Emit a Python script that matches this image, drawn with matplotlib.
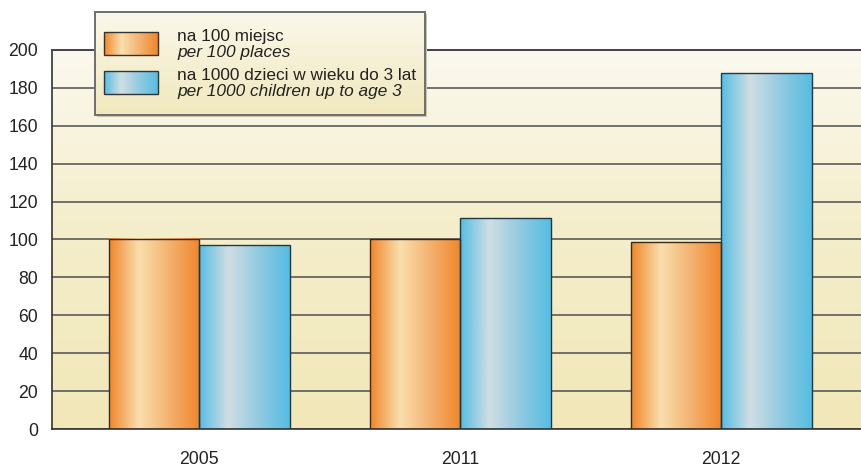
import numpy as np
import matplotlib
matplotlib.use("Agg")
import matplotlib.pyplot as plt
from matplotlib.colors import to_rgb
from matplotlib.patches import Rectangle

plt.rcParams['font.family'] = ['Liberation Sans', 'DejaVu Sans']

# Data
years = ["2005", "2011", "2012"]
per_100_places = [100.4, 100.2, 98.6]
per_1000_children = [97.0, 111.2, 187.6]
series_labels = [("na 100 miejsc", "per 100 places"),
                 ("na 1000 dzieci w wieku do 3 lat", "per 1000 children up to age 3")]
y_ticks = [0, 20, 40, 60, 80, 100, 120, 140, 160, 180, 200]

ORANGE_STOPS = [(0.0, '#f0862a'), (0.33, '#f9dfae'), (0.62, '#f4b878'), (1.0, '#f0862a')]
BLUE_STOPS = [(0.0, '#55bde3'), (0.32, '#d1dee3'), (0.65, '#93cbe0'), (1.0, '#55bde3')]


def gradient(stops, n=256):
    pos = np.array([s[0] for s in stops])
    cols = np.array([to_rgb(s[1]) for s in stops])
    t = np.linspace(0, 1, n)
    return np.stack([np.interp(t, pos, cols[:, k]) for k in range(3)], axis=-1)


W, H, DPI = 862, 469, 100
fig = plt.figure(figsize=(W / DPI, H / DPI), dpi=DPI)
fig.patch.set_facecolor('white')

ax = fig.add_axes([52 / W, 40 / H, (W - 52) / W, 379 / H])

# vertical background gradient of the plot area
bg = gradient([(0.0, '#f1e7b8'), (0.55, '#f5eecc'), (1.0, '#fbf9ef')])[:, None, :]
ax.imshow(bg, extent=[0, 1, 0, 1], transform=ax.transAxes, origin='lower',
          aspect='auto', zorder=0, interpolation='bilinear')

x = np.arange(len(years))
bw = 0.347
og = gradient(ORANGE_STOPS)[None, :, :]
bl = gradient(BLUE_STOPS)[None, :, :]
for xi, v1, v2 in zip(x, per_100_places, per_1000_children):
    ax.imshow(og, extent=[xi - bw, xi, 0, v1], aspect='auto', zorder=2,
              interpolation='bilinear')
    ax.imshow(bl, extent=[xi, xi + bw, 0, v2], aspect='auto', zorder=2,
              interpolation='bilinear')
ax.bar(x - bw / 2, per_100_places, width=bw, facecolor='none',
       edgecolor='#3a2a1a', linewidth=1.0, zorder=3)
ax.bar(x + bw / 2, per_1000_children, width=bw, facecolor='none',
       edgecolor='#1f3a45', linewidth=1.0, zorder=3)

ax.set_xlim(-0.565, 2.54)
ax.set_ylim(0, 200)
ax.set_yticks(y_ticks)
ax.set_xticks(x)
ax.set_xticklabels(years)
ax.yaxis.grid(True, color='#5a5a5a', linewidth=1.2)
ax.set_axisbelow(True)
ax.spines['right'].set_visible(False)
ax.spines['top'].set_color('#444444')
ax.spines['top'].set_linewidth(1.4)
for s in ['left', 'bottom']:
    ax.spines[s].set_color('#333333')
    ax.spines[s].set_linewidth(1.2)
ax.tick_params(axis='both', length=0, labelsize=12.7, labelcolor='#222222')
ax.tick_params(axis='y', pad=10)
ax.tick_params(axis='x', pad=16)

# legend drawn in pixel coordinates
ov = fig.add_axes([0, 0, 1, 1], zorder=10)
ov.set_xlim(0, W)
ov.set_ylim(H, 0)
ov.axis('off')
lg = gradient([(0.0, '#faf8ea'), (1.0, '#f1e8bd')])[:, None, :]
lx0, lx1, ly0, ly1 = 95.5, 425.5, 12.5, 115.5
ov.add_patch(Rectangle((lx0 + 1.5, ly0 + 1.5), lx1 - lx0, ly1 - ly0,
                       facecolor='#c9c4ad', edgecolor='none', zorder=1))
ov.imshow(lg, extent=[lx0, lx1, ly1, ly0], aspect='auto', zorder=2,
          interpolation='bilinear')
ov.add_patch(Rectangle((lx0, ly0), lx1 - lx0, ly1 - ly0, facecolor='none',
                       edgecolor='#6e6e6e', linewidth=1.4, zorder=3))
for (py, grad_img, (pl, en)) in [(32, og, series_labels[0]), (71, bl, series_labels[1])]:
    ov.imshow(grad_img, extent=[104, 158, py + 23, py], aspect='auto', zorder=4,
              interpolation='bilinear')
    ov.add_patch(Rectangle((104, py), 54, 23, facecolor='none',
                           edgecolor='#333333', linewidth=1.0, zorder=5))
    ov.text(177, py + 8.5, pl, fontsize=12.4, color='#222222', va='baseline', zorder=6)
    ov.text(177, py + 25, en, fontsize=12.4, style='italic', color='#222222',
            va='baseline', zorder=6)
ov.set_xlim(0, W)
ov.set_ylim(H, 0)

fig.savefig('out.png', dpi=DPI, facecolor='white')
